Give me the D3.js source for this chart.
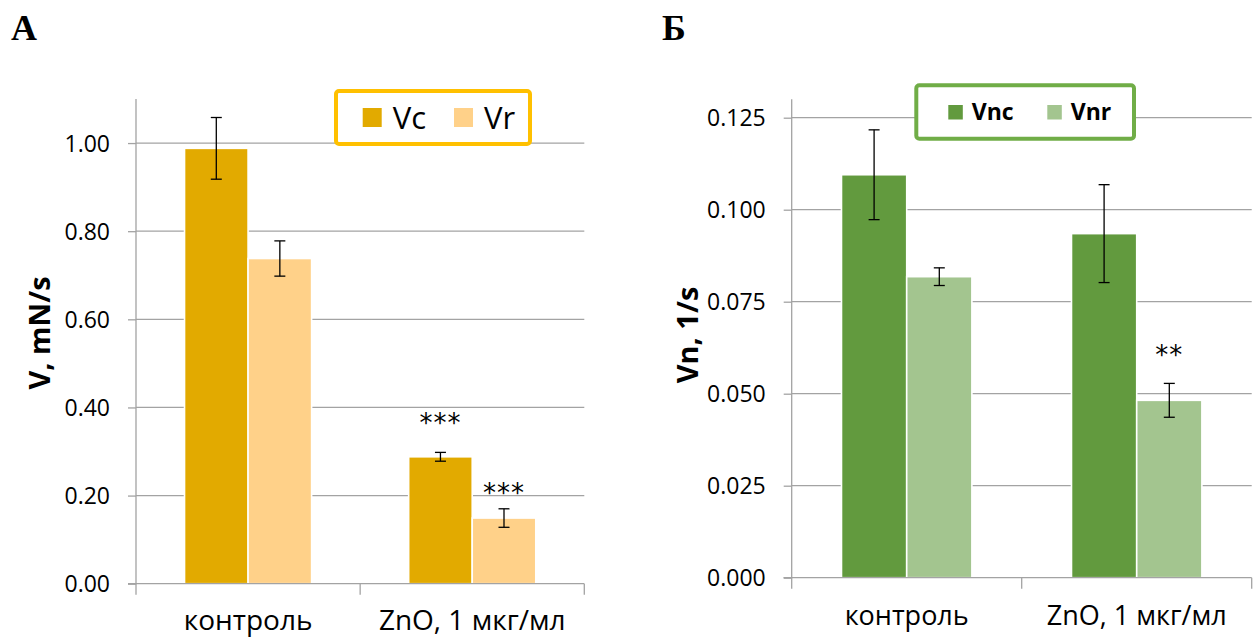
<!DOCTYPE html>
<html>
<head>
<meta charset="utf-8">
<script src="https://cdn.jsdelivr.net/npm/d3@7"></script>
<style>
  html, body { margin: 0; padding: 0; background: #fff; }
  svg { display: block; }
  svg text { fill: #000; }
</style>
</head>
<body>
<script>
// ---------- DATA ----------
const categories = ["контроль", "ZnO, 1 мкг/мл"];

// Panel А
const seriesNamesA = ["Vc", "Vr"];
const vcValues = [0.988, 0.288];
const vcErrors = [0.070, 0.010];
const vcSig    = ["", "***"];
const vrValues = [0.738, 0.149];
const vrErrors = [0.040, 0.021];
const vrSig    = ["", "***"];
const ticksA   = [0.00, 0.20, 0.40, 0.60, 0.80, 1.00];
const yMaxA    = 1.1;

// Panel Б
const seriesNamesB = ["Vnc", "Vnr"];
const vncValues = [0.1095, 0.0935];
const vncErrors = [0.0122, 0.0133];
const vncSig    = ["", ""];
const vnrValues = [0.0818, 0.0482];
const vnrErrors = [0.0024, 0.0046];
const vnrSig    = ["", "**"];
const ticksB    = [0.000, 0.025, 0.050, 0.075, 0.100, 0.125];
const yMaxB     = 0.13;

// ---------- DRAW ----------
const SANS = '"Open Sans", "Liberation Sans", sans-serif';
const svg = d3.select("body").append("svg")
  .attr("width", 1259).attr("height", 638)
  .style("font-family", SANS);

function drawPanel(o) {
  const g = svg.append("g");
  const x0 = d3.scaleBand().domain(categories).range(o.xRange)
    .paddingInner(0.433).paddingOuter(0.2165);
  const x1 = d3.scaleBand().domain(o.series.map(s => s.name))
    .range([0, x0.bandwidth()]).padding(0);
  const y = d3.scaleLinear().domain([0, o.yMax]).range(o.yRange);

  // gridlines
  g.append("g").selectAll("line").data(o.ticks.filter(t => t > 0)).join("line")
    .attr("x1", o.xRange[0]).attr("x2", o.xRange[1])
    .attr("y1", d => y(d)).attr("y2", d => y(d))
    .attr("stroke", "#a3a3a3").attr("stroke-width", 1.3);

  // left axis
  const yAxis = d3.axisLeft(y).tickValues(o.ticks).tickFormat(d3.format(o.fmt))
    .tickSize(8).tickPadding(18);
  const ya = g.append("g").attr("transform", `translate(${o.xRange[0]},0)`).call(yAxis);
  ya.select(".domain").attr("stroke", "#a3a3a3").attr("stroke-width", 1.3)
    .attr("d", `M-8,${o.yRange[0]}H0V${o.yRange[1]}`);
  ya.selectAll(".tick line").attr("stroke", "#a3a3a3").attr("stroke-width", 1.3);
  ya.attr("font-family", null);
  ya.selectAll(".tick text").attr("font-size", o.tickFont).attr("fill", "#000")
    .style("font-family", SANS).attr("dy", "0.36em");

  // bars
  const rows = [];
  categories.forEach((c, i) => {
    o.series.forEach(s => rows.push({ cat: c, name: s.name, v: s.values[i], e: s.errors[i], sig: s.sig[i], color: s.color }));
  });
  g.append("g").selectAll("rect").data(rows).join("rect")
    .attr("x", d => x0(d.cat) + x1(d.name))
    .attr("width", x1.bandwidth())
    .attr("y", d => y(d.v))
    .attr("height", d => y(0) - y(d.v))
    .attr("fill", d => d.color)
    .attr("stroke", "#fff").attr("stroke-width", 1.6);

  // bottom axis
  const bx = g.append("g");
  bx.append("line").attr("x1", o.xRange[0] - 8).attr("x2", o.xRange[1])
    .attr("y1", y(0)).attr("y2", y(0)).attr("stroke", "#a3a3a3").attr("stroke-width", 1.3);
  const sepX = [o.xRange[0], (x0(categories[0]) + x0.bandwidth() + x0(categories[1])) / 2, o.xRange[1]];
  bx.selectAll(".sep").data(sepX).join("line").attr("class", "sep")
    .attr("x1", d => d).attr("x2", d => d)
    .attr("y1", y(0)).attr("y2", y(0) + 11)
    .attr("stroke", "#a3a3a3").attr("stroke-width", 1.3);
  bx.selectAll(".cat").data(categories).join("text").attr("class", "cat")
    .attr("x", d => x0(d) + x0.bandwidth() / 2)
    .attr("y", o.catBaseline)
    .attr("text-anchor", "middle")
    .attr("font-size", o.catFont)
    .text(d => d);

  // error bars
  const eb = g.append("g").attr("stroke", "#000").attr("stroke-width", 1.3);
  rows.forEach(d => {
    const cx = x0(d.cat) + x1(d.name) + x1.bandwidth() / 2;
    const yt = y(d.v + d.e), yb = y(d.v - d.e);
    eb.append("line").attr("x1", cx).attr("x2", cx).attr("y1", yt).attr("y2", yb);
    eb.append("line").attr("x1", cx - 5.5).attr("x2", cx + 5.5).attr("y1", yt).attr("y2", yt);
    eb.append("line").attr("x1", cx - 5.5).attr("x2", cx + 5.5).attr("y1", yb).attr("y2", yb);
  });

  // significance marks
  g.append("g").selectAll("text").data(rows.filter(d => d.sig)).join("text")
    .attr("x", d => x0(d.cat) + x1(d.name) + x1.bandwidth() / 2)
    .attr("y", d => y(d.v + d.e) - (o.sigGap[d.name] || 20))
    .attr("text-anchor", "middle")
    .style("font-family", '"DejaVu Sans", sans-serif')
    .attr("font-size", 26)
    .attr("letter-spacing", 1)
    .text(d => d.sig);

  // y title
  g.append("text")
    .attr("transform", `translate(${o.yTitle[0]},${o.yTitle[1]}) rotate(-90)`)
    .attr("text-anchor", "middle")
    .attr("font-weight", "bold")
    .attr("font-size", o.yTitleFont)
    .text(o.yTitleText);

  // legend
  const L = o.legend;
  const lg = g.append("g");
  lg.append("rect").attr("x", L.x).attr("y", L.y).attr("width", L.w).attr("height", L.h)
    .attr("rx", 3).attr("fill", "#fff").attr("stroke", L.border).attr("stroke-width", 4);
  o.series.forEach((s, i) => {
    const sx = L.itemX + i * L.step;
    lg.append("rect").attr("x", sx).attr("y", L.sqY).attr("width", L.sq).attr("height", L.sq).attr("fill", s.color);
    lg.append("text").attr("x", sx + L.textDx).attr("y", L.textY)
      .attr("font-size", L.font).attr("font-weight", L.weight).text(s.name);
  });

  // panel letter
  g.append("text").attr("x", o.letterPos[0]).attr("y", o.letterPos[1])
    .style("font-family", '"Liberation Serif", "Times New Roman", serif')
    .attr("font-weight", "bold").attr("font-size", 36).text(o.letter);
}

drawPanel({
  letter: "А", letterPos: [11, 39.5],
  xRange: [136, 584.3], yRange: [583.7, 99], yMax: yMaxA,
  ticks: ticksA, fmt: ".2f", tickFont: 23,
  catFont: 28, catBaseline: 630,
  yTitle: [50, 333], yTitleText: "V, mN/s", yTitleFont: 29,
  sigGap: { Vc: 20, Vr: 7 },
  series: [
    { name: seriesNamesA[0], values: vcValues, errors: vcErrors, sig: vcSig, color: "#e2aa00" },
    { name: seriesNamesA[1], values: vrValues, errors: vrErrors, sig: vrSig, color: "#ffd189" }
  ],
  legend: { x: 336, y: 91, w: 194, h: 53, border: "#ffc000", itemX: 362.7, step: 91.3,
            sq: 19, sqY: 108, textDx: 30, textY: 128.5, font: 31, weight: "normal" }
});

drawPanel({
  letter: "Б", letterPos: [662, 40],
  xRange: [791.7, 1251.7], yRange: [577.7, 99.3], yMax: yMaxB,
  ticks: ticksB, fmt: ".3f", tickFont: 23,
  catFont: 27, catBaseline: 625,
  yTitle: [698, 335], yTitleText: "Vn, 1/s", yTitleFont: 29,
  sigGap: { Vnr: 19 },
  series: [
    { name: seriesNamesB[0], values: vncValues, errors: vncErrors, sig: vncSig, color: "#629a3e" },
    { name: seriesNamesB[1], values: vnrValues, errors: vnrErrors, sig: vnrSig, color: "#a3c58f" }
  ],
  legend: { x: 916.3, y: 85.3, w: 217.7, h: 53.4, border: "#70ad47", itemX: 948.3, step: 99,
            sq: 14.5, sqY: 105, textDx: 23.4, textY: 119.5, font: 23, weight: "bold" }
});
</script>
</body>
</html>
